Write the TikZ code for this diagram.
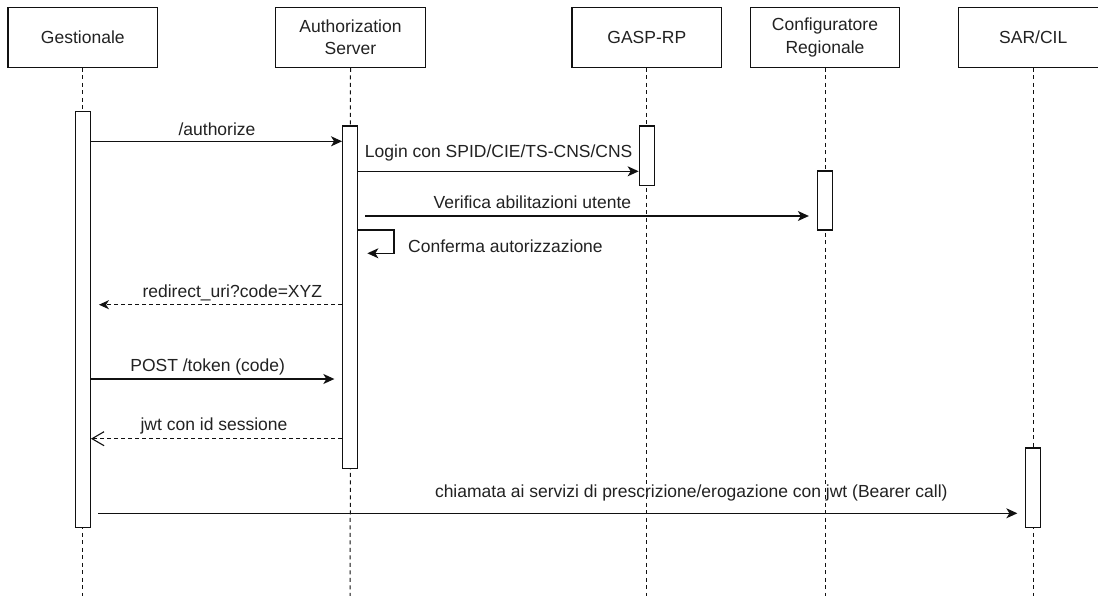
\documentclass[tikz,border=0pt]{standalone}
\usepackage{fontspec}
\setmainfont{Liberation Sans}
\usetikzlibrary{arrows.meta}
\definecolor{txt}{HTML}{222222}
\definecolor{ln}{HTML}{111111}
\tikzset{
  part/.style={draw=ln, line width=1.3pt, fill=white, minimum width=149.5pt, minimum height=60pt, inner sep=0pt, align=center, text=txt, font=\fontsize{17.5}{22.5}\selectfont},
  life/.style={draw=ln, line width=1pt, dash pattern=on 4pt off 3.5pt},
  act/.style={draw=ln, line width=1.3pt, fill=white, minimum width=15pt, inner sep=0pt},
  msg/.style={draw=ln, line width=1.3pt, -{Stealth[length=11pt,width=10pt,inset=3pt]}},
  ret/.style={draw=ln, line width=1.3pt, dash pattern=on 4pt off 3pt, -{Stealth[length=10pt,width=9pt,inset=3pt]}},
  reto/.style={draw=ln, line width=1.1pt, dash pattern=on 4pt off 3pt, -{Straight Barb[length=12pt,width=14pt,line width=1.1pt]}},
  lbl/.style={text=txt, inner sep=0pt, font=\fontsize{17.5}{21}\selectfont},
}
\begin{document}
\begin{tikzpicture}[x=1pt,y=-1pt]
\useasboundingbox (0,0) rectangle (1098,596);
\clip (0,0) rectangle (1098,596);
\fill[white] (0,0) rectangle (1098,596);
% participants
\node[part] (G) at (82.8,37.3) {Gestionale};
\node[part] (A) at (350.5,37.3) {Authorization\\Server};
\node[part] (P) at (646.8,37.3) {GASP-RP};
\node[part] (C) at (825,37.3) {Configuratore\\Regionale};
\node[part] (S) at (1033.2,37.3) {SAR/CIL};
% lifeline ends
\coordinate (Ge) at (82.8,596);
\coordinate (Ae) at (350.2,596);
\coordinate (Pe) at (646.8,596);
\coordinate (Ce) at (825,596);
\coordinate (Se) at (1033.2,596);
\draw[life] (G.south) -- (Ge);
\draw[life] (A.south) -- (Ae);
\draw[life] (P.south) -- (Pe);
\draw[life] (C.south) -- (Ce);
\draw[life] (S.south) -- (Se);
% activations
\node[act, minimum height=416pt] (aG) at (82.8,319.7) {};
\node[act, minimum height=342.5pt] (aA) at (350.2,297.25) {};
\node[act, minimum height=59.7pt] (aP) at (646.8,155.85) {};
\node[act, minimum height=59pt] (aC) at (825,200.5) {};
\node[act, minimum height=79.7pt] (aS) at (1033.2,487.85) {};
% messages
\draw[msg] (aG.east |- 0,141.3) -- (aA.west |- 0,141.3);
\node[lbl] (l1) at (217,129.3) {/authorize};
\draw[msg] (aA.east |- 0,171.3) -- (aP.west |- 0,171.3);
\node[lbl] (l2) at (498.7,153) {Login con SPID/CIE/TS-CNS/CNS};
\draw[msg] ([xshift=7pt]aA.east |- 0,216) -- ([xshift=-8pt]aC.west |- 0,216);
\node[lbl] (l3) at (532.4,202.5) {Verifica abilitazioni utente};
\coordinate (sl1) at (394,230);
\coordinate (sl2) at (394,253.3);
\draw[msg] (aA.east |- 0,230) -- (sl1) -- (sl2) -- ([xshift=9pt]aA.east |- sl2);
\node[lbl, anchor=west] (l4) at (408,246.5) {Conferma autorizzazione};
\draw[ret] (aA.west |- 0,304.7) -- ([xshift=8pt]aG.east |- 0,304.7);
\node[lbl] (l5) at (232.3,292.7) {redirect\_uri?code=XYZ};
\draw[msg] (aG.east |- 0,379) -- ([xshift=-7.7pt]aA.west |- 0,379);
\node[lbl] (l6) at (207.7,366.7) {POST /token (code)};
\draw[reto] (aA.west |- 0,438.7) -- (aG.east |- 0,438.7);
\node[lbl] (l7) at (214,426) {jwt con id sessione};
\draw[msg] ([xshift=7.4pt]aG.east |- 0,513.3) -- ([xshift=-7.7pt]aS.west |- 0,513.3);
\node[lbl] (l8) at (691.3,492.8) {chiamata ai servizi di prescrizione/erogazione con jwt (Bearer call)};
\end{tikzpicture}
\end{document}
